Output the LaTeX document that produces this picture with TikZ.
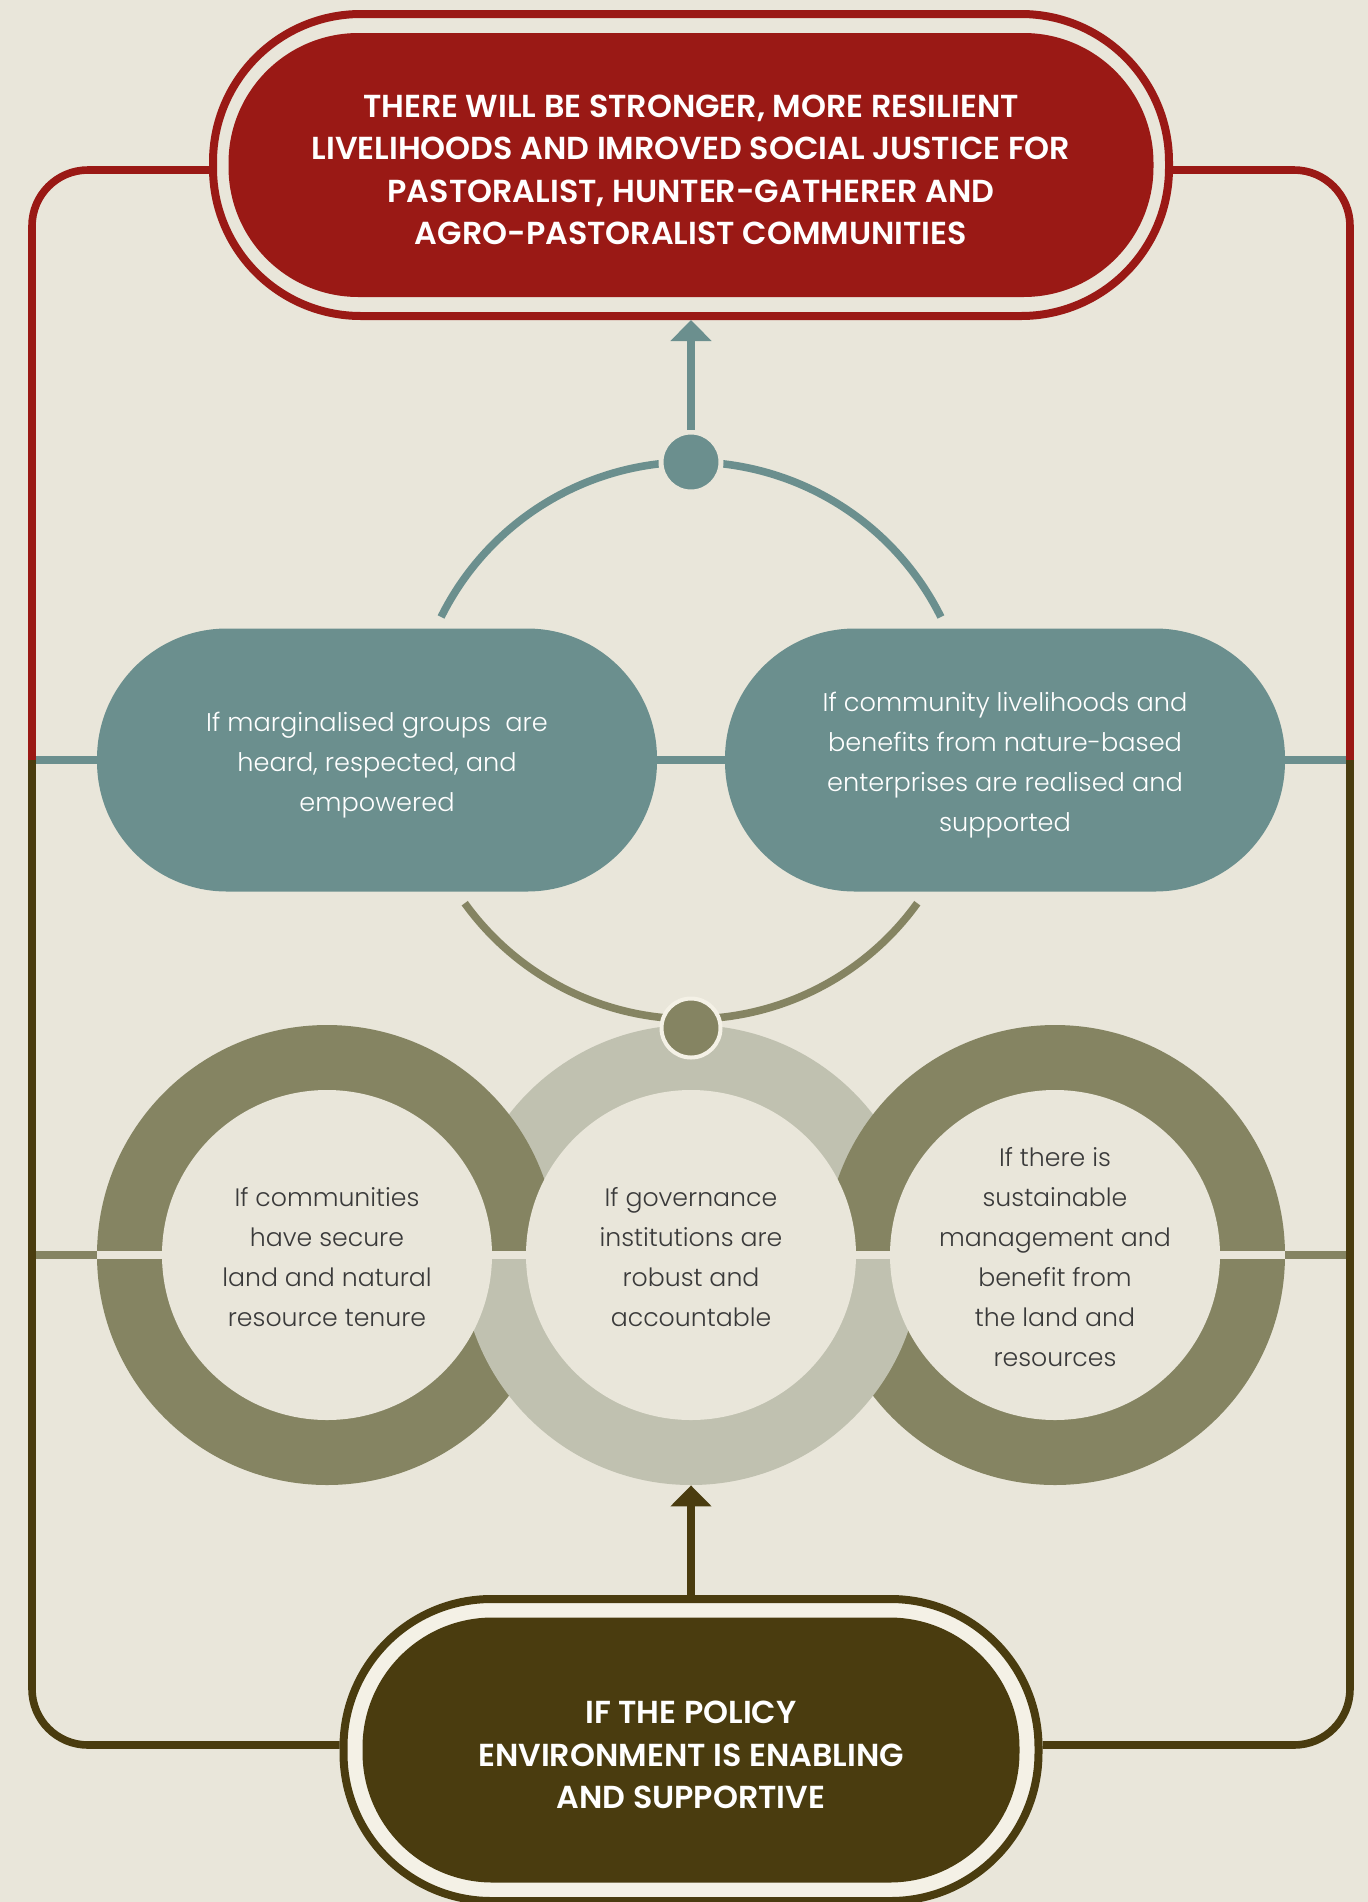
\documentclass[tikz,border=0pt]{standalone}
\usepackage{fontspec}
\setmainfont{Poppins}
\newfontfamily\thinfont{Poppins Light}
\newfontfamily\capsfont{Poppins SemiBold}
\usepackage{tikz}
\usetikzlibrary{arrows.meta, positioning}

\definecolor{bgc}{HTML}{E9E6DA}
\definecolor{redc}{HTML}{9A1915}
\definecolor{tealc}{HTML}{6B8F8E}
\definecolor{olivec}{HTML}{858462}
\definecolor{palec}{HTML}{C0C1B0}
\definecolor{brownc}{HTML}{4A3C0F}
\definecolor{creamc}{HTML}{F4F1E6}
\definecolor{inkc}{HTML}{3A3A3A}

% struts that push the first line down a little
\newcommand{\capstrut}{\rule{0pt}{16.1pt}}
\newcommand{\ifstrut}{\rule{0pt}{14.5pt}}
\newcommand{\holestrut}{\rule{0pt}{11.7pt}}

\begin{document}
\begin{tikzpicture}[
  x=0.5pt, y=-0.5pt,
  capsbox/.style={rectangle, rounded corners=65pt, inner sep=0pt, align=center, text=white, font=\capsfont\fontsize{15.9pt}{21.25pt}\selectfont},
  ifbox/.style={rectangle, rounded corners=65pt, fill=tealc, minimum width=280pt, minimum height=131.5pt, inner sep=0pt, align=center, text=white, font=\thinfont\fontsize{12.8pt}{20pt}\selectfont},
  rim/.style={rectangle, rounded corners=74pt, line width=4pt, minimum height=151pt},
  disc/.style={circle, minimum size=230pt, inner sep=0pt},
  hole/.style={circle, fill=bgc, minimum size=165pt, inner sep=0pt, align=center, text=inkc, font=\thinfont\fontsize{12.6pt}{20pt}\selectfont},
  knot/.style={circle, minimum size=30pt, inner sep=0pt, line width=2.5pt},
  wire/.style={line width=3.8pt},
  arr/.style={wire, -{Triangle[width=20pt, length=10.5pt]}},
]
\fill[bgc] (0,0) rectangle (1368,1902);
\useasboundingbox (0,0) rectangle (1368,1902);

% outcome
\node[rim, draw=redc, minimum width=478pt] (goalrim) at (691,165) {};
\node[capsbox, fill=redc, minimum width=462.5pt, minimum height=132pt] (goal) at (691,165)
  {\capstrut THERE WILL BE STRONGER, MORE RESILIENT\\ LIVELIHOODS AND IMROVED SOCIAL JUSTICE FOR\\ PASTORALIST, HUNTER-GATHERER AND\\ AGRO-PASTORALIST COMMUNITIES};

% teal conditions
\node[ifbox] (heard) at (377,760) {\ifstrut If marginalised groups \ are\\ heard, respected, and\\ empowered};
\node[ifbox] (benefit) at (1005,760) {\ifstrut If community livelihoods and\\ benefits from nature-based\\ enterprises are realised and\\ supported};

% ring chain
\begin{scope}
  \clip (0,0) rectangle (1368,1255);
  \node[disc, fill=palec] (govring) at (691,1255) {};
\end{scope}
\node[disc, fill=olivec] (tenurering) at (327,1255) {};
\node[disc, fill=olivec] (landring) at (1055,1255) {};
\begin{scope}
  \clip (0,1255) rectangle (1368,1902);
  \fill[palec] (govring.center) circle[radius=115pt];
\end{scope}
\draw[bgc, line width=3.75pt] (tenurering.west) -- (landring.east);
\node[hole] (tenure) at (tenurering) {\holestrut If communities\\ have secure\\ land and natural\\ resource tenure};
\node[hole] (gov) at (govring) {\holestrut If governance\\ institutions are\\ robust and\\ accountable};
\node[hole] (land) at (landring) {\holestrut If there is\\ sustainable\\ management and\\ benefit from\\ the land and\\ resources};

% policy
\node[rim, draw=brownc, fill=creamc, minimum width=347.5pt] (baserim) at (691,1750) {};
\node[capsbox, fill=brownc, minimum width=328.5pt, minimum height=132.5pt] (base) at (691,1750)
  {\capstrut IF THE POLICY\\ ENVIRONMENT IS ENABLING\\ AND SUPPORTIVE};

% side lines
\coordinate (ljoin) at (32,760);
\coordinate (rjoin) at (1350,760);
\coordinate (lmid) at (32,1255);
\coordinate (rmid) at (1350,1255);
\draw[wire, tealc] (ljoin) -- (heard) (heard) -- (benefit) (benefit) -- (rjoin);
\draw[wire, olivec] (lmid) -- (tenurering) (landring) -- (rmid);
\draw[wire, redc, rounded corners=28pt] ([yshift=-2.5pt]goalrim.west) -| (ljoin);
\draw[wire, redc, rounded corners=28pt] ([yshift=-2.5pt]goalrim.east) -| (rjoin);
\draw[wire, brownc, rounded corners=28pt] (ljoin) |- ([yshift=2.5pt]baserim.west);
\draw[wire, brownc, rounded corners=28pt] (rjoin) |- ([yshift=2.5pt]baserim.east);

% arcs and knots
\coordinate (apex) at (691,462);
\coordinate (nadir) at (691,1019);
\draw[wire, tealc] (apex) arc[start angle=90, end angle=153.6, radius=139.5pt]
  (apex) arc[start angle=90, end angle=26.4, radius=139.5pt];
\draw[wire, olivec] (nadir) arc[start angle=270, end angle=215.8, radius=139.5pt]
  (nadir) arc[start angle=270, end angle=324.2, radius=139.5pt];
\node[knot, fill=tealc, draw=bgc] (topknot) at (apex) {};
\node[knot, fill=olivec, draw=creamc, line width=2pt, minimum size=29.5pt] (lowknot) at (691,1028) {};

% arrows
\draw[arr, tealc] (topknot) -- (goalrim);
\draw[arr, brownc] (baserim) -- (govring);

\end{tikzpicture}
\end{document}
